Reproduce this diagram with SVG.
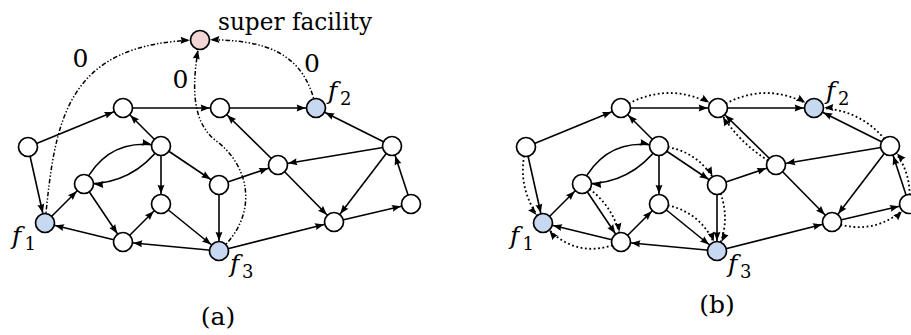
<svg xmlns="http://www.w3.org/2000/svg" width="911" height="335" viewBox="0 0 911 335">
  <defs>
    <style>
      .edge { fill: none; stroke: #000; stroke-width: 1.6; marker-end: url(#arr); }
      .dot { fill: none; stroke: #000; stroke-width: 1.8; stroke-dasharray: 1.8 2.6; marker-end: url(#arr); }
      .dashdot { fill: none; stroke: #000; stroke-width: 1.5; stroke-dasharray: 4.5 2 1.4 2 1.4 2; marker-end: url(#arr); }
      .node circle { fill: #fff; stroke: #000; stroke-width: 1.7; }
      .node.fac circle { fill: #c6d9f1; }
      .node.sf circle { fill: #f2d6d6; }
      .lbl { font-family: 'DejaVu Serif', 'Liberation Serif', serif; font-size: 25px; fill: #000; }
      .it { font-style: italic; }
      .sub { font-size: 18px; }
    </style>
    <!-- arrowhead: tip sits on the rim of a node of radius 9.5 when the path ends at its centre -->
    <marker id="arr" viewBox="0 0 9 7" markerWidth="9" markerHeight="7" refX="19.3" refY="3.5" orient="auto" markerUnits="userSpaceOnUse" overflow="visible">
      <path d="M0,0 L9,3.5 L0,7 Q1.8,3.5 0,0 Z" fill="#000"/>
    </marker>
  </defs>

  <!-- (a) network with super facility -->
  <g id="graph-a">
    <g id="a-connectors">
      <path class="edge" d="M28,147 L123,108"/>
      <path class="edge" d="M28,147 L45,223"/>
      <path class="edge" d="M123,108 L220,108"/>
      <path class="edge" d="M220,108 L316,108"/>
      <path class="edge" d="M161,146 L123,108"/>
      <path class="edge" d="M84,184 Q108.5,136 161,146"/>
      <path class="edge" d="M161,146 Q132,185 84,184"/>
      <path class="edge" d="M161,146 L161,204"/>
      <path class="edge" d="M161,146 L219,185"/>
      <path class="edge" d="M45,223 L84,184"/>
      <path class="edge" d="M84,184 L123,242"/>
      <path class="edge" d="M123,242 L45,223"/>
      <path class="edge" d="M123,242 L161,204"/>
      <path class="edge" d="M161,204 L219,251"/>
      <path class="edge" d="M219,185 L219,251"/>
      <path class="edge" d="M219,251 L123,242"/>
      <path class="edge" d="M219,185 L278,165"/>
      <path class="edge" d="M278,165 L220,108"/>
      <path class="edge" d="M392,146 L316,108"/>
      <path class="edge" d="M392,146 L278,165"/>
      <path class="edge" d="M219,251 L334,222"/>
      <path class="edge" d="M278,165 L334,222"/>
      <path class="edge" d="M392,146 L334,222"/>
      <path class="edge" d="M334,222 L411,204"/>
      <path class="edge" d="M411,204 L392,146"/>
      <!-- zero-cost links into the super facility -->
      <path class="dashdot" d="M45,223 C55,120 65,42 200,40"/>
      <path class="dashdot" d="M219,251 C260,215 250,165 215,140 C190,120 192,80 200,40"/>
      <path class="dashdot" d="M316,108 C305,55 270,38 200,40"/>
    </g>
    <g id="a-nodes">
      <g id="a-super" class="node sf"><circle cx="200" cy="40" r="9.5"/></g>
      <g id="a-n1" class="node"><circle cx="28" cy="147" r="9.5"/></g>
      <g id="a-n2" class="node"><circle cx="123" cy="108" r="9.5"/></g>
      <g id="a-n3" class="node"><circle cx="220" cy="108" r="9.5"/></g>
      <g id="a-f2" class="node fac"><circle cx="316" cy="108" r="9.5"/></g>
      <g id="a-n4" class="node"><circle cx="161" cy="146" r="9.5"/></g>
      <g id="a-n5" class="node"><circle cx="84" cy="184" r="9.5"/></g>
      <g id="a-f1" class="node fac"><circle cx="45" cy="223" r="9.5"/></g>
      <g id="a-n6" class="node"><circle cx="123" cy="242" r="9.5"/></g>
      <g id="a-n7" class="node"><circle cx="161" cy="204" r="9.5"/></g>
      <g id="a-n8" class="node"><circle cx="219" cy="185" r="9.5"/></g>
      <g id="a-f3" class="node fac"><circle cx="219" cy="251" r="9.5"/></g>
      <g id="a-n9" class="node"><circle cx="278" cy="165" r="9.5"/></g>
      <g id="a-n10" class="node"><circle cx="392" cy="146" r="9.5"/></g>
      <g id="a-n11" class="node"><circle cx="334" cy="222" r="9.5"/></g>
      <g id="a-n12" class="node"><circle cx="411" cy="204" r="9.5"/></g>
    </g>
    <g id="a-labels">
      <text class="lbl" x="218" y="30" textLength="154" lengthAdjust="spacingAndGlyphs">super facility</text>
      <text class="lbl" x="80.5" y="67" text-anchor="middle">0</text>
      <text class="lbl" x="180.5" y="88" text-anchor="middle">0</text>
      <text class="lbl" x="312" y="72" text-anchor="middle">0</text>
      <text class="lbl it" x="12" y="244">f</text><text class="lbl sub" x="24.5" y="250">1</text>
      <text class="lbl it" x="328" y="99">f</text><text class="lbl sub" x="340" y="105">2</text>
      <text class="lbl it" x="230" y="272">f</text><text class="lbl sub" x="242" y="278">3</text>
      <text class="lbl" x="218" y="325" text-anchor="middle">(a)</text>
    </g>
  </g>

  <!-- (b) same network with shortest-path tree towards the facilities -->
  <g id="graph-b" transform="translate(498,0)">
    <g id="b-connectors">
      <path class="edge" d="M28,147 L123,108"/>
      <path class="edge" d="M28,147 L45,223"/>
      <path class="edge" d="M123,108 L220,108"/>
      <path class="edge" d="M220,108 L316,108"/>
      <path class="edge" d="M161,146 L123,108"/>
      <path class="edge" d="M84,184 Q108.5,136 161,146"/>
      <path class="edge" d="M161,146 Q132,185 84,184"/>
      <path class="edge" d="M161,146 L161,204"/>
      <path class="edge" d="M161,146 L219,185"/>
      <path class="edge" d="M45,223 L84,184"/>
      <path class="edge" d="M84,184 L123,242"/>
      <path class="edge" d="M123,242 L45,223"/>
      <path class="edge" d="M123,242 L161,204"/>
      <path class="edge" d="M161,204 L219,251"/>
      <path class="edge" d="M219,185 L219,251"/>
      <path class="edge" d="M219,251 L123,242"/>
      <path class="edge" d="M219,185 L278,165"/>
      <path class="edge" d="M278,165 L220,108"/>
      <path class="edge" d="M392,146 L316,108"/>
      <path class="edge" d="M392,146 L278,165"/>
      <path class="edge" d="M219,251 L334,222"/>
      <path class="edge" d="M278,165 L334,222"/>
      <path class="edge" d="M392,146 L334,222"/>
      <path class="edge" d="M334,222 L411,204"/>
      <path class="edge" d="M411,204 L392,146"/>
      <!-- tree edges -->
      <path class="dot" d="M28,147 Q17,189 45,223"/>
      <path class="dot" d="M123,242 Q77,262 45,223"/>
      <path class="dot" d="M84,184 Q117,204 123,242"/>
      <path class="dot" d="M161,204 Q205,209 219,251"/>
      <path class="dot" d="M161,146 Q201,149 219,185"/>
      <path class="dot" d="M219,185 Q235,218 219,251"/>
      <path class="dot" d="M123,108 Q171.5,78 220,108"/>
      <path class="dot" d="M220,108 Q268,78 316,108"/>
      <path class="dot" d="M278,165 Q240.6,145 220,108"/>
      <path class="dot" d="M392,146 Q364,107 316,108"/>
      <path class="dot" d="M411,204 Q415,171 392,146"/>
      <path class="dot" d="M334,222 Q378.5,238 411,204"/>
    </g>
    <g id="b-nodes">
      <g id="b-n1" class="node"><circle cx="28" cy="147" r="9.5"/></g>
      <g id="b-n2" class="node"><circle cx="123" cy="108" r="9.5"/></g>
      <g id="b-n3" class="node"><circle cx="220" cy="108" r="9.5"/></g>
      <g id="b-f2" class="node fac"><circle cx="316" cy="108" r="9.5"/></g>
      <g id="b-n4" class="node"><circle cx="161" cy="146" r="9.5"/></g>
      <g id="b-n5" class="node"><circle cx="84" cy="184" r="9.5"/></g>
      <g id="b-f1" class="node fac"><circle cx="45" cy="223" r="9.5"/></g>
      <g id="b-n6" class="node"><circle cx="123" cy="242" r="9.5"/></g>
      <g id="b-n7" class="node"><circle cx="161" cy="204" r="9.5"/></g>
      <g id="b-n8" class="node"><circle cx="219" cy="185" r="9.5"/></g>
      <g id="b-f3" class="node fac"><circle cx="219" cy="251" r="9.5"/></g>
      <g id="b-n9" class="node"><circle cx="278" cy="165" r="9.5"/></g>
      <g id="b-n10" class="node"><circle cx="392" cy="146" r="9.5"/></g>
      <g id="b-n11" class="node"><circle cx="334" cy="222" r="9.5"/></g>
      <g id="b-n12" class="node"><circle cx="411" cy="204" r="9.5"/></g>
    </g>
    <g id="b-labels">
      <text class="lbl it" x="12" y="244">f</text><text class="lbl sub" x="24.5" y="250">1</text>
      <text class="lbl it" x="328" y="99">f</text><text class="lbl sub" x="340" y="105">2</text>
      <text class="lbl it" x="230" y="272">f</text><text class="lbl sub" x="242" y="278">3</text>
      <text class="lbl" x="219" y="313" text-anchor="middle">(b)</text>
    </g>
  </g>
</svg>
